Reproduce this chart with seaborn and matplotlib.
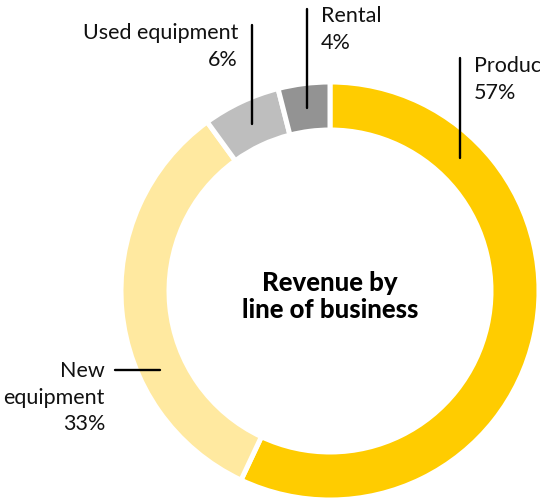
import matplotlib
matplotlib.use("Agg")
import matplotlib.pyplot as plt
import seaborn as sns

# data
segments = ["Product support", "New equipment", "Used equipment", "Rental"]
shares = [57, 33, 6, 4]
seg_colors = ["#FFCC00", "#FFE9A0", "#BEBEBE", "#939393"]
center_title = "Revenue by\nline of business"

sns.set_theme(style="white")
plt.rcParams["font.family"] = ["Lato", "DejaVu Sans"]

W, H = 540, 498
fig = plt.figure(figsize=(W / 100, H / 100), dpi=100)
ax = fig.add_axes([0, 0, 1, 1])
ax.set_aspect("equal")
ax.axis("off")


def py(y):
    # pixel row (from top) -> data y (from bottom)
    return H - y


cx, cy, r_out, ring = 330, py(291), 209, 48

ax.pie(shares, colors=seg_colors, startangle=90, counterclock=False,
       radius=r_out, center=(cx, cy),
       wedgeprops=dict(width=ring, edgecolor="white", linewidth=3.6))
ax.set_xlim(0, W)
ax.set_ylim(0, H)

ax.text(cx, py(296), center_title, ha="center", va="center", fontsize=18.5,
        fontweight="black", color="black", linespacing=1.15)

lab = dict(fontsize=15.5, color="#111111", linespacing=1.42)
lw = 1.7

# Product support
ax.plot([460, 460], [py(58), py(158)], color="black", lw=lw)
ax.text(474, py(56), f"{segments[0]}\n{shares[0]}%", ha="left", va="top", **lab)

# Used equipment
ax.plot([252, 252], [py(25), py(124)], color="black", lw=lw)
ax.text(238, py(23), f"{segments[2]}\n{shares[2]}%", ha="right", va="top",
        multialignment="right", **lab)

# Rental
ax.plot([307, 307], [py(9), py(108)], color="black", lw=lw)
ax.text(321, py(6), f"{segments[3]}\n{shares[3]}%", ha="left", va="top", **lab)

# New equipment
ax.plot([115, 160], [py(370), py(370)], color="black", lw=lw)
ax.text(105, py(361), f"New\nequipment\n{shares[1]}%", ha="right", va="top",
        multialignment="right", **lab)

fig.savefig("out.png", dpi=100)
